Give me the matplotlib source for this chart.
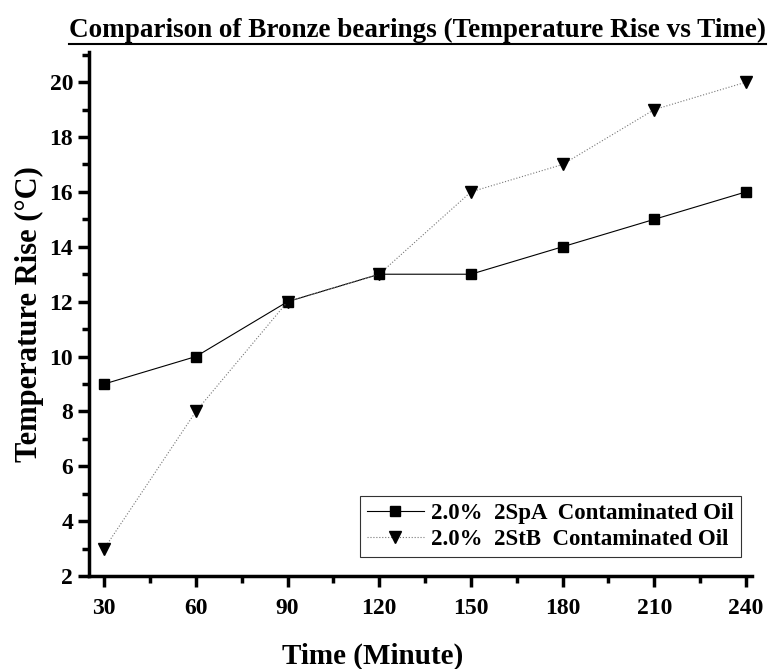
import matplotlib
matplotlib.use("Agg")
import matplotlib.pyplot as plt
from matplotlib.ticker import MultipleLocator
from matplotlib.lines import Line2D

plt.rcParams['font.family'] = 'Liberation Serif'
plt.rcParams['font.weight'] = 'bold'

time_min = [30, 60, 90, 120, 150, 180, 210, 240]
rise_2spa = [9, 10, 12, 13, 13, 14, 15, 16]
rise_2stb = [3, 8, 12, 13, 16, 17, 19, 20]
label_a = "2.0%  2SpA  Contaminated Oil"
label_b = "2.0%  2StB  Contaminated Oil"

fig = plt.figure(figsize=(7.68, 6.69), dpi=100)
ax = fig.add_axes([89/768, 1-576/669, (752-89)/768, (576-52)/669])

ax.plot(time_min, rise_2spa, color='black', lw=0.8, marker='s', ms=7, label=label_a)
ax.plot(time_min, rise_2stb, color='#777777', lw=0.8, ls=':', marker='v', ms=8,
        mfc='black', mec='black', label=label_b)

ax.set_xlim(25, 242)
ax.set_ylim(2, 21.1)
ax.xaxis.set_minor_locator(MultipleLocator(15))
ax.yaxis.set_major_locator(MultipleLocator(2))
ax.yaxis.set_minor_locator(MultipleLocator(1))
ax.set_xticks(time_min)

for s in ['top', 'right']:
    ax.spines[s].set_visible(False)
for s in ['left', 'bottom']:
    ax.spines[s].set_linewidth(2.5)
ax.tick_params(which='major', direction='out', length=8, width=2.5, labelsize=17)
ax.tick_params(axis='x', which='major', pad=8)
ax.tick_params(which='minor', direction='out', length=5, width=2.5)
for lab in ax.get_xticklabels() + ax.get_yticklabels():
    lab.set_fontweight('bold')

ax.set_xlabel("Time (Minute)", fontsize=21, fontweight='bold')
ax.xaxis.set_label_coords(0.428, -0.127)
ax.set_ylabel("Temperature Rise (°C)", fontsize=22, fontweight='bold', labelpad=4)

leg = ax.legend(loc='lower right', fontsize=16.5, frameon=True, fancybox=False,
                edgecolor='black', handlelength=2.5, handletextpad=0.3, borderpad=0.3,
                labelspacing=0.2, bbox_to_anchor=(1.0, 0.015))
leg.get_frame().set_linewidth(0.8)

title = fig.text(0.544, 0.955, "Comparison of Bronze bearings (Temperature Rise vs Time)",
                 ha='center', va='center', fontsize=19.5, fontweight='bold')
fig.canvas.draw()
bb = title.get_window_extent().transformed(fig.transFigure.inverted())
fig.add_artist(Line2D([bb.x0, bb.x1], [bb.y0 - 0.002, bb.y0 - 0.002], color='black', lw=1.5,
                      transform=fig.transFigure))

fig.savefig("out.png", dpi=100)
